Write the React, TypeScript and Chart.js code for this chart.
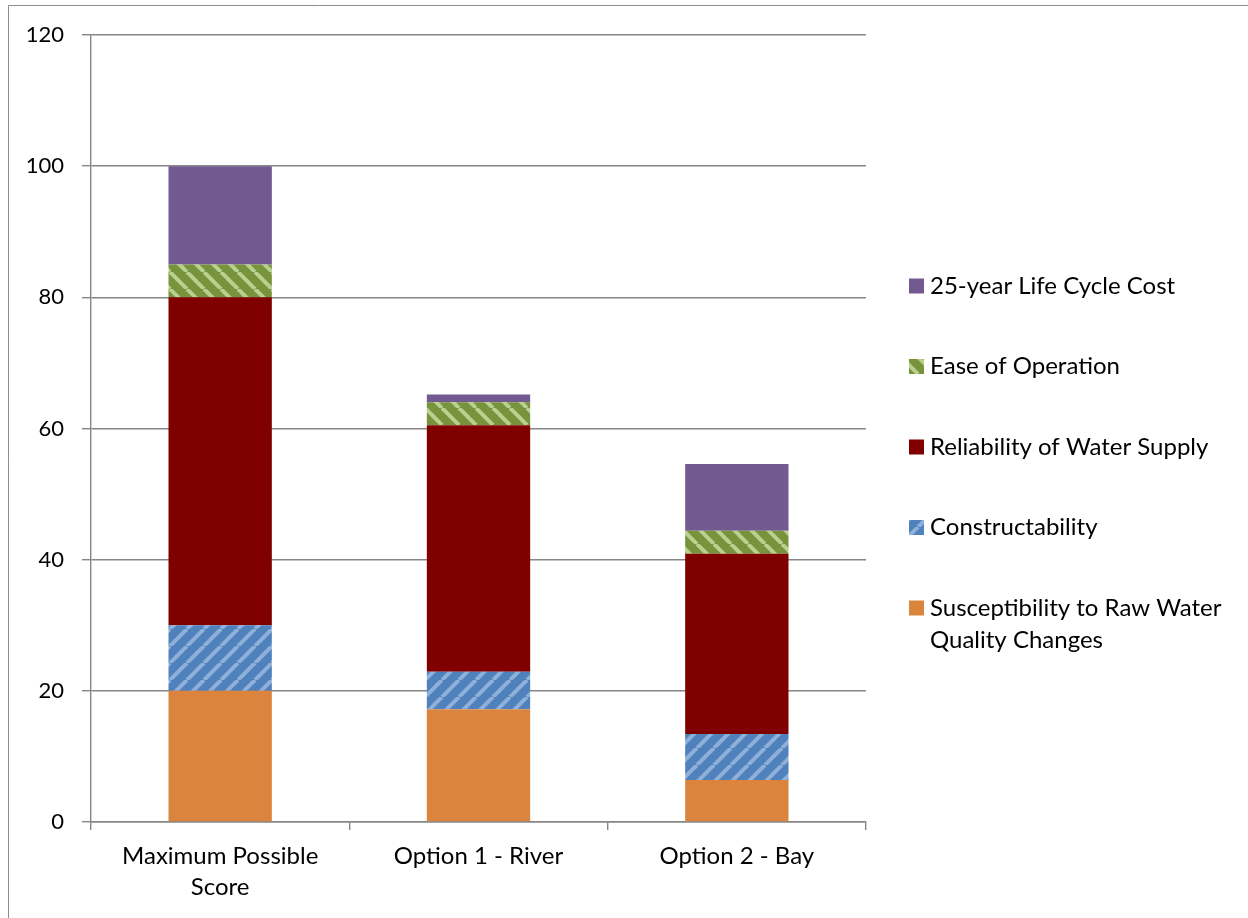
import React, { useEffect, useRef } from "react";
import { Chart, registerables } from "chart.js";

Chart.register(...registerables);

// Options being scored
const categories: (string | string[])[] = [
  ["Maximum Possible", "Score"],
  "Option 1 - River",
  "Option 2 - Bay",
];

// Score components (stacked bottom to top)
const susceptibility = [20, 17.2, 6.4];
const constructability = [10, 5.7, 7.0];
const reliability = [50, 37.6, 27.5];
const easeOfOperation = [5, 3.5, 3.5];
const lifeCycleCost = [15, 1.2, 10.2];

const yTicks = [0, 20, 40, 60, 80, 100, 120];

const FONT = "Lato, 'Open Sans', 'DejaVu Sans', sans-serif";
const GRID = "#868686";

function stripePattern(base: string, stripe: string, upward: boolean): CanvasPattern | string {
  const size = 17;
  const c = document.createElement("canvas");
  c.width = size;
  c.height = size;
  const g = c.getContext("2d");
  if (!g) return base;
  g.fillStyle = base;
  g.fillRect(0, 0, size, size);
  g.strokeStyle = stripe;
  g.lineWidth = 4;
  for (const off of [-size, 0, size]) {
    g.beginPath();
    if (upward) {
      g.moveTo(off, size);
      g.lineTo(off + size, 0);
    } else {
      g.moveTo(off, 0);
      g.lineTo(off + size, size);
    }
    g.stroke();
  }
  const p = g.createPattern(c, "repeat");
  return p || base;
}

export default function App() {
  const ref = useRef<HTMLCanvasElement>(null);

  useEffect(() => {
    if (!ref.current) return;
    const bluePat = stripePattern("#4f81bd", "#8fb0d9", true);
    const greenPat = stripePattern("#77933c", "#b9d08e", false);

    const series = [
      { label: "Susceptibility to Raw Water Quality Changes", data: susceptibility, bg: "#db843d" },
      { label: "Constructability", data: constructability, bg: bluePat },
      { label: "Reliability of Water Supply", data: reliability, bg: "#800000" },
      { label: "Ease of Operation", data: easeOfOperation, bg: greenPat },
      { label: "25-year Life Cycle Cost", data: lifeCycleCost, bg: "#72598f" },
    ];

    // Frame lines and a right-hand legend listing series top-down
    const decor = {
      id: "decor",
      beforeDraw(chart: Chart) {
        const ctx = chart.ctx;
        ctx.save();
        ctx.fillStyle = "#ffffff";
        ctx.fillRect(0, 0, chart.width, chart.height);
        ctx.strokeStyle = "#8c8c8c";
        ctx.lineWidth = 1;
        ctx.beginPath();
        ctx.moveTo(8.5, chart.height);
        ctx.lineTo(8.5, 5.5);
        ctx.lineTo(chart.width, 5.5);
        ctx.stroke();
        ctx.restore();
      },
      afterDraw(chart: Chart) {
        const ctx = chart.ctx;
        const area = chart.chartArea;
        ctx.save();
        ctx.font = `24px ${FONT}`;
        ctx.textBaseline = "middle";
        ctx.textAlign = "left";
        const boxX = area.right + 43;
        const textX = boxX + 21;
        const startY = 286;
        const step = 80.5;
        const items = [...series].reverse();
        items.forEach((s, i) => {
          const cy = startY + i * step;
          ctx.fillStyle = s.bg as any;
          ctx.fillRect(boxX, cy - 7.5, 15, 15);
          ctx.fillStyle = "#000000";
          const lines =
            s.label === "Susceptibility to Raw Water Quality Changes"
              ? ["Susceptibility to Raw Water", "Quality Changes"]
              : [s.label];
          lines.forEach((ln, j) => ctx.fillText(ln, textX, cy + j * 32));
        });
        ctx.restore();
      },
    };

    const chart = new Chart(ref.current, {
      type: "bar",
      data: {
        labels: categories,
        datasets: series.map((s) => ({
          label: s.label,
          data: s.data,
          backgroundColor: s.bg as any,
          borderWidth: 0,
          categoryPercentage: 1,
          barPercentage: 0.4,
        })),
      },
      options: {
        responsive: false,
        animation: false,
        layout: { padding: { left: 0, right: 382, top: 35, bottom: 0 } },
        plugins: { legend: { display: false }, tooltip: { enabled: false } },
        scales: {
          x: {
            stacked: true,
            afterFit: (s: any) => {
              s.height = 96;
            },
            grid: {
              drawOnChartArea: false,
              drawTicks: true,
              tickLength: 8,
              color: GRID,
              lineWidth: 1.4,
              offset: true,
            },
            border: { color: GRID, width: 1.4 },
            ticks: {
              color: "#000000",
              padding: 11,
              font: { family: FONT, size: 24, lineHeight: 31 / 24 },
              maxRotation: 0,
              autoSkip: false,
            },
          },
          y: {
            stacked: true,
            min: 0,
            max: 120,
            afterFit: (s: any) => {
              s.width = 91;
            },
            afterBuildTicks: (s: any) => {
              s.ticks = yTicks.map((v) => ({ value: v }));
            },
            grid: {
              color: GRID,
              lineWidth: 1.4,
              tickLength: 9,
            },
            border: { color: GRID, width: 1.4 },
            ticks: {
              color: "#000000",
              padding: 18,
              font: { family: FONT, size: 22 },
            },
          },
        },
      },
      plugins: [decor],
    });

    return () => chart.destroy();
  }, []);

  return (
    <div style={{ position: "absolute", left: 0, top: 0, width: 1248, height: 918 }}>
      <canvas ref={ref} width={1248} height={918} style={{ display: "block" }} />
    </div>
  );
}
